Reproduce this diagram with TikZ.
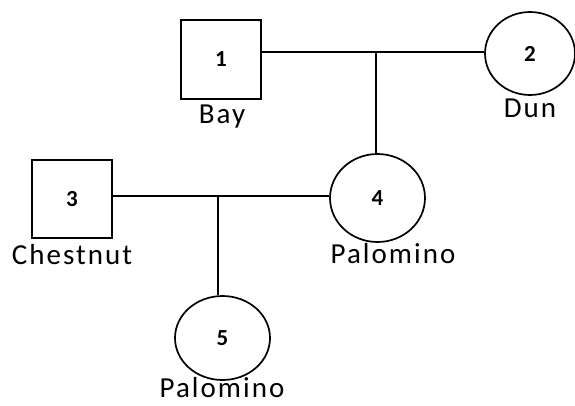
\documentclass[tikz,border=0pt]{standalone}
\usepackage{fontspec}
\setmainfont{Carlito}
\usetikzlibrary{shapes.geometric}
\begin{document}
\begin{tikzpicture}[x=1pt,y=-1pt,
  male/.style={draw, line width=1.7pt, rectangle, minimum width=80pt, minimum height=79pt, inner sep=0pt, font=\fontsize{23}{25}\selectfont\bfseries},
  female/.style={draw, line width=1.7pt, ellipse, inner sep=0pt, font=\fontsize{23}{25}\selectfont\bfseries},
  lbl/.style={font=\fontsize{29}{31}\selectfont\addfontfeatures{LetterSpace=7}, inner sep=0pt, anchor=base},
  link/.style={line width=1.7pt}]
\useasboundingbox (0,0) rectangle (575,406);
\node[male] (n1) at (221,59.5) {1};
\node[female, minimum width=90pt, minimum height=83pt] (n2) at (530,53.5) {2};
\node[male, minimum height=78pt] (n3) at (72,199) {3};
\node[female, minimum width=95pt, minimum height=88pt] (n4) at (377.5,198) {4};
\node[female, minimum width=95pt, minimum height=84pt] (n5) at (222.5,338) {5};
\node[lbl] (l1) at (222,124) {Bay};
\node[lbl] (l2) at (530,118) {Dun};
\node[lbl] (l3) at (72,264) {Chestnut};
\node[lbl] (l4) at (393,263) {Palomino};
\node[lbl] (l5) at (222,397) {Palomino};
\coordinate (m1) at (376,52);
\coordinate (m2) at (218,196);
\draw[link] (n1.east |- m1) -- (m1 -| n2.west);
\draw[link] (m1) -- (m1 |- n4.north);
\draw[link] (n3.east |- m2) -- (m2 -| n4.west);
\draw[link] (m2) -- (m2 |- n5.north);
\end{tikzpicture}
\end{document}
